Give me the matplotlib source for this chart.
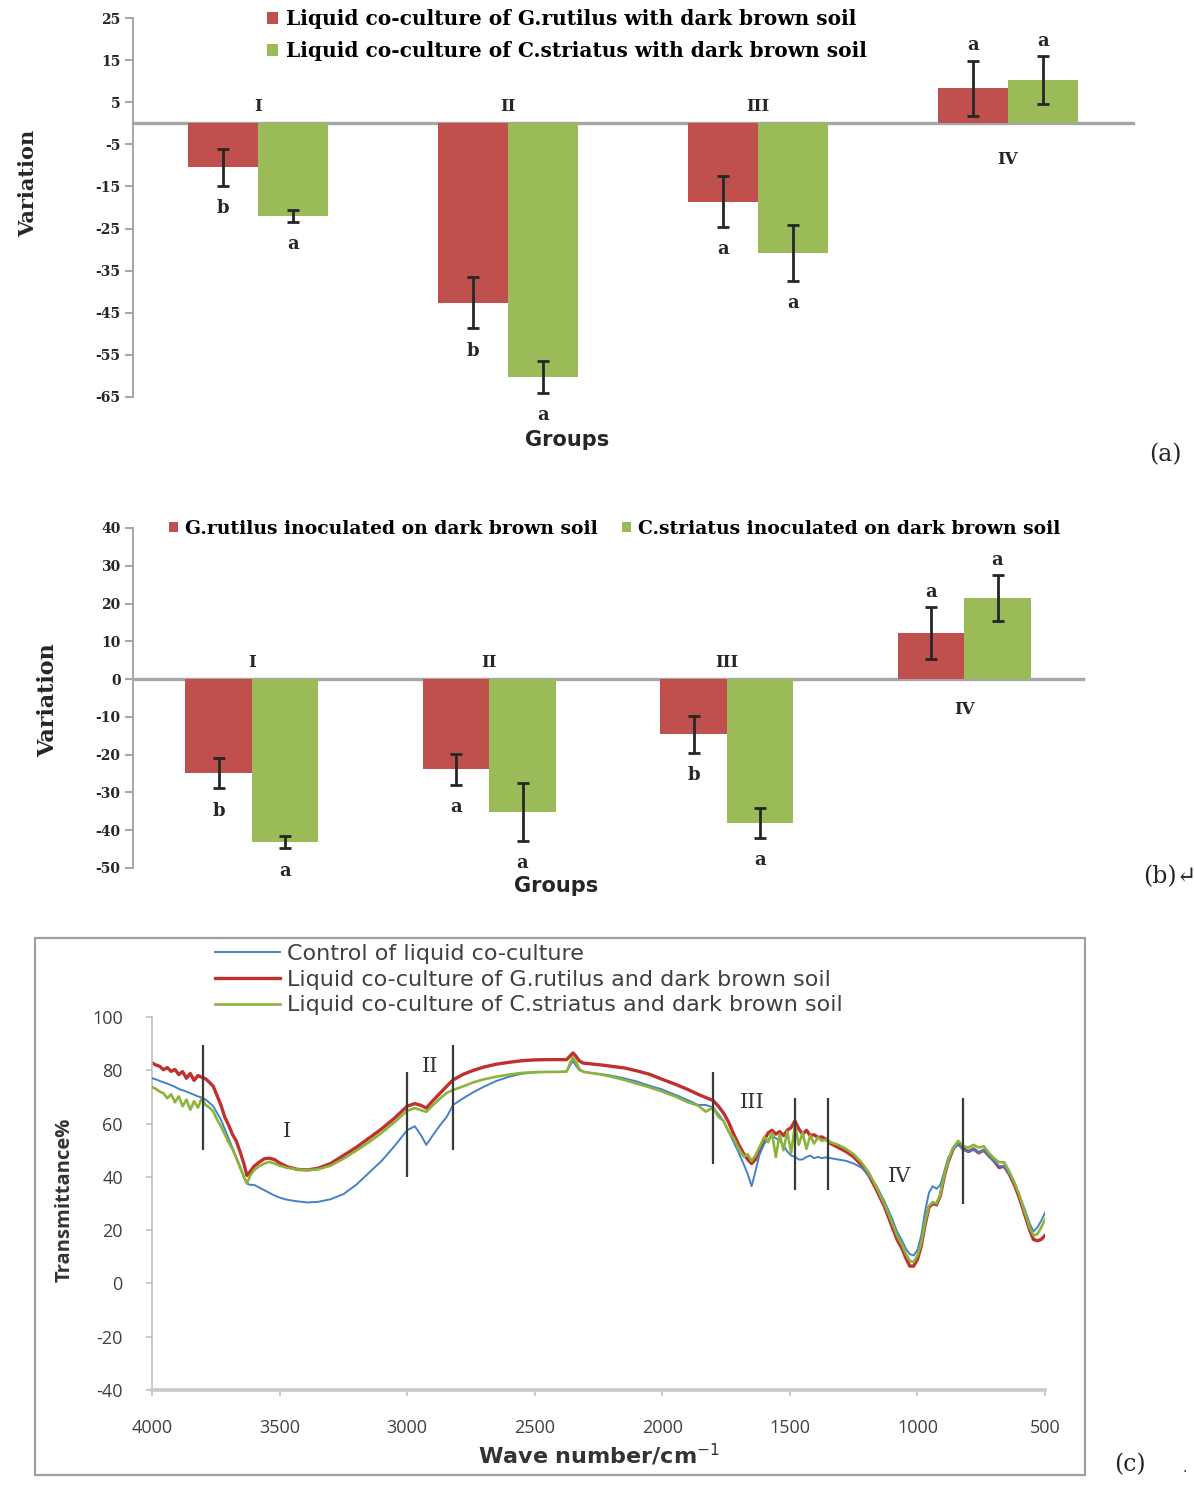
import matplotlib
matplotlib.use("Agg")
import matplotlib.pyplot as plt
from matplotlib.patches import Rectangle
import numpy as np

plt.rcParams["axes.unicode_minus"] = False

W, H, DPI = 1194, 1487, 100

groups = ["I", "II", "III", "IV"]

# (a) liquid co-culture with dark brown soil
a_grutilus = [-10.5, -42.6, -18.6, 8.3]
a_grutilus_err = [4.3, 6.1, 6.0, 6.6]
a_grutilus_sig = ["b", "b", "a", "a"]
a_cstriatus = [-22.0, -60.3, -30.8, 10.2]
a_cstriatus_err = [1.4, 3.8, 6.7, 5.7]
a_cstriatus_sig = ["a", "a", "a", "a"]
a_labels = ["Liquid co-culture of G.rutilus with dark brown soil",
            "Liquid co-culture of C.striatus with dark brown soil"]

# (b) strains inoculated on dark brown soil
b_grutilus = [-24.9, -23.8, -14.6, 12.2]
b_grutilus_err = [4.0, 4.1, 4.9, 6.9]
b_grutilus_sig = ["b", "a", "b", "a"]
b_cstriatus = [-43.1, -35.2, -38.1, 21.4]
b_cstriatus_err = [1.7, 7.6, 4.0, 6.1]
b_cstriatus_sig = ["a", "a", "a", "a"]
b_labels = ["G.rutilus inoculated on dark brown soil",
            "C.striatus inoculated on dark brown soil"]

# (c) FTIR spectra
wavenumber = [
    4000, 3985, 3970, 3955, 3940, 3925, 3910, 3895, 3880, 3865,
    3850, 3835, 3820, 3805, 3790, 3775, 3760, 3745, 3730, 3715,
    3700, 3685, 3670, 3655, 3640, 3628, 3615, 3600,
    3580, 3560, 3540, 3520, 3500, 3470, 3430, 3390, 3350, 3300,
    3250, 3200, 3150, 3100, 3050, 3000, 2970, 2945, 2925, 2900,
    2870, 2845, 2820,
    2780, 2740, 2700, 2650, 2600, 2550, 2500, 2450, 2400, 2375,
    2360, 2350, 2340, 2325, 2310, 2280, 2240, 2200, 2150, 2100,
    2050, 2000, 1950, 1900, 1860,
    1830, 1800, 1780, 1760, 1740, 1720, 1700, 1680, 1665, 1650,
    1635, 1620, 1600, 1585, 1570, 1555, 1540, 1525, 1510, 1495,
    1480, 1465, 1450, 1435, 1420, 1405, 1390, 1375, 1360,
    1340, 1310, 1280, 1250, 1220, 1190, 1160, 1130, 1100, 1080,
    1060, 1045, 1030, 1015, 1000, 985, 970, 955, 940, 925,
    910, 895, 880, 860, 840, 820, 800, 780, 760, 740,
    720, 700, 680, 660, 640, 620, 600, 580, 560, 545,
    530, 515, 500]
control = [
    77.0, 76.6, 76.0, 75.5, 75.0, 74.4, 73.8, 73.0, 72.5, 72.0,
    71.4, 70.8, 70.2, 69.8, 69.0, 67.8, 66.5, 64.0, 61.5, 58.0,
    54.5, 51.0, 47.5, 44.0, 40.0, 37.5, 37.0, 37.0,
    36.0, 35.0, 34.0, 33.0, 32.2, 31.4, 30.8, 30.4, 30.6, 31.6,
    33.5, 37.0, 41.5, 46.0, 51.5, 57.5, 59.0, 55.5, 52.0, 55.5,
    59.5, 62.5, 67.0,
    69.5, 71.8, 73.8, 76.0, 77.6, 78.7, 79.2, 79.4, 79.4, 79.6,
    82.0, 83.5, 82.0, 80.0, 79.6, 79.0, 78.6, 78.0, 77.0, 75.8,
    74.2, 72.8, 70.8, 68.8, 67.0,
    67.0, 66.0, 63.5, 61.0, 57.0, 53.0, 49.0, 44.5, 41.0, 36.5,
    42.0, 48.0, 52.5, 54.0, 55.5, 54.5, 53.5, 52.0, 49.5, 48.0,
    47.5, 46.5, 46.5, 47.5, 48.0, 47.0, 47.5, 47.0, 47.3,
    47.0, 46.5, 46.0, 45.0, 43.5, 40.5, 36.5, 31.0, 24.5, 19.5,
    16.0, 13.0, 11.0, 10.5, 12.5, 18.0, 27.0, 34.0, 36.5, 35.5,
    37.0, 42.0, 47.0, 50.5, 52.0, 50.0, 49.5, 50.5, 49.0, 50.0,
    47.5, 46.0, 44.0, 44.0, 41.0, 37.5, 33.0, 28.0, 22.5, 19.5,
    21.0, 23.5, 26.5]
grutilus_soil = [
    82.8, 82.0, 81.5, 80.2, 81.0, 79.6, 80.3, 78.4, 79.5, 77.0,
    78.8, 76.2, 78.0, 77.4, 76.8, 75.5, 74.0, 70.5, 67.0, 62.5,
    59.5, 56.0, 53.5, 49.5, 45.0, 40.5, 42.0, 44.0,
    45.5, 46.8, 47.0, 46.5, 45.2, 43.8, 42.8, 42.6, 43.2, 45.0,
    48.0, 51.0, 54.5, 58.0, 62.0, 66.5, 67.5, 66.8, 65.8, 68.5,
    71.5, 74.0, 76.4,
    78.5, 80.0, 81.2, 82.3, 83.0, 83.6, 83.9, 84.0, 84.0, 84.0,
    85.5, 86.5, 85.5, 83.5, 82.7, 82.4, 82.0, 81.5, 80.9, 79.8,
    78.5, 76.6, 74.8, 72.8, 71.0,
    69.8, 68.6, 66.5, 64.0, 60.5, 56.0, 52.0, 48.5, 46.5, 45.0,
    46.5, 50.0, 54.0, 56.5, 57.5, 56.0, 57.0, 55.5, 57.5, 58.5,
    61.0, 58.0, 56.0, 57.5, 55.5, 55.8, 54.8, 55.0, 54.2,
    52.5, 51.0, 49.5, 47.5, 44.5, 40.5, 35.0, 29.0, 21.5, 16.5,
    13.0, 9.5, 6.5, 6.5, 9.0, 14.0, 22.0, 28.5, 30.0, 29.5,
    33.0, 40.0, 45.5, 50.5, 53.0, 50.5, 49.5, 50.5, 49.0, 50.0,
    48.0, 46.0, 43.5, 44.0, 41.0, 37.0, 32.0, 26.0, 20.0, 16.5,
    16.0, 16.5, 18.0]
cstriatus_soil = [
    73.8, 73.0, 72.0, 71.4, 69.5, 71.0, 68.0, 70.2, 66.5, 69.0,
    65.2, 68.4, 66.0, 69.5, 67.0, 66.0, 64.5, 61.5, 59.0, 56.0,
    53.0, 50.5, 47.0, 43.5, 40.0, 37.5, 40.5, 42.5,
    44.0, 45.0, 45.6, 45.0, 44.2, 43.4, 42.8, 42.5, 42.8, 44.2,
    46.8, 49.8, 53.0, 56.5, 60.5, 64.8, 65.8, 65.0, 64.4, 66.8,
    69.5, 71.5, 72.6,
    74.0, 75.5, 76.6, 77.6, 78.4, 79.0, 79.3, 79.4, 79.4, 79.5,
    83.0, 85.0, 83.5, 80.5, 79.4, 79.0, 78.4, 77.6, 76.4, 75.0,
    73.6, 72.0, 70.2, 68.0, 66.8,
    64.5, 66.0, 62.5, 61.0, 57.0, 54.5, 50.5, 47.5, 48.5, 46.0,
    48.0, 51.0, 55.0, 53.0, 56.5, 47.5, 56.0, 50.0, 57.0, 49.0,
    59.5, 52.0, 56.5, 50.5, 55.5, 52.5, 54.8, 53.5, 54.0,
    53.0, 52.0, 50.5, 48.5, 45.5, 41.5, 36.0, 30.0, 23.0, 18.0,
    14.5, 11.0, 8.5, 8.0, 10.5, 15.0, 23.0, 29.0, 30.5, 30.0,
    33.5, 40.5, 46.0, 51.0, 53.5, 51.5, 51.0, 52.0, 51.0, 51.5,
    49.0, 47.0, 45.5, 45.5, 42.0, 38.0, 33.0, 27.0, 21.0, 18.0,
    18.5, 21.0, 24.0]
spectra_labels = ["Control of liquid co-culture",
                  "Liquid co-culture of G.rutilus and dark brown soil",
                  "Liquid co-culture of C.striatus and dark brown soil"]

# band boundaries drawn on the spectra
band_wn = [3800, 3000, 2820, 1800, 1480, 1350, 820]
band_lo = [50, 40, 50, 45, 35, 35, 30]
band_hi = [89.5, 79.5, 89.5, 79.5, 69.5, 69.5, 69.5]
band_names = ["I", "II", "III", "IV"]
band_name_wn = [3471, 2911, 1649, 1069]
band_name_t = [57, 81.5, 68, 40]

RED = "#c0504d"
GREEN = "#9bbb59"
AXGRAY = "#a6a6a6"
INK = "#262626"
SERIF = "DejaVu Serif"
SANS = "DejaVu Sans"

fig = plt.figure(figsize=(W / DPI, H / DPI), dpi=DPI)


def fx(x):
    return x / W


def fy(y):
    return 1 - y / H


def axes_px(left, top, right, bottom):
    return fig.add_axes([fx(left), fy(bottom), (right - left) / W, (bottom - top) / H])


def bar_panel(ax, rv, re, rs, gv, ge, gs, ylim, yticks, above_pt, below_pt, ticksize):
    x = np.arange(len(groups))
    w = 0.28
    bars_r = ax.bar(x - w / 2, rv, w, color=RED, zorder=2)
    bars_g = ax.bar(x + w / 2, gv, w, color=GREEN, zorder=2)
    for xs, vals, errs in ((x - w / 2, rv, re), (x + w / 2, gv, ge)):
        ax.errorbar(xs, vals, yerr=errs, fmt="none", ecolor=INK, elinewidth=2.0,
                    capsize=4, capthick=2.0, zorder=3)
    for xs, vals, errs, sig in ((x - w / 2, rv, re, rs), (x + w / 2, gv, ge, gs)):
        for xi, v, e, s in zip(xs, vals, errs, sig):
            if v < 0:
                y, off = v - e, -16
            else:
                y, off = v + e, 11
            ax.annotate(s, (xi, y), xytext=(0, off), textcoords="offset points",
                        ha="center", va="center", fontsize=13, fontweight="bold",
                        family=SERIF, color=INK)
    for xi, g, r, gr in zip(x, groups, rv, gv):
        off = above_pt if min(r, gr) < 0 else -below_pt
        ax.annotate(g, (xi, 0), xytext=(0, off), textcoords="offset points",
                    ha="center", va="center", fontsize=12, fontweight="bold",
                    family=SERIF, color=INK)
    ax.set_xlim(-0.5, len(groups) - 0.5)
    ax.set_ylim(*ylim)
    ax.set_yticks(yticks)
    ax.set_xticks([])
    ax.spines["top"].set_visible(False)
    ax.spines["right"].set_visible(False)
    ax.spines["bottom"].set_position(("data", 0))
    ax.spines["bottom"].set_color(AXGRAY)
    ax.spines["bottom"].set_linewidth(2.4)
    ax.spines["bottom"].set_zorder(1)
    ax.spines["left"].set_color(AXGRAY)
    ax.spines["left"].set_linewidth(1.4)
    ax.tick_params(axis="y", direction="out", length=6, width=1.4, color=AXGRAY,
                   labelsize=ticksize, labelcolor=INK, pad=3)
    for t in ax.get_yticklabels():
        t.set_fontweight("bold")
        t.set_family(SERIF)
    ax.patch.set_alpha(0)
    return bars_r, bars_g


# ---------- (a) ----------
ax1 = axes_px(133, 18, 1133, 397)
br, bg = bar_panel(ax1, a_grutilus, a_grutilus_err, a_grutilus_sig,
                   a_cstriatus, a_cstriatus_err, a_cstriatus_sig,
                   (-65, 25), np.arange(-65, 26, 10), 12, 26, 10)
fig.legend([br, bg], a_labels, loc="upper left",
           bbox_to_anchor=(fx(253), fy(-5)), frameon=False,
           prop={"family": SERIF, "weight": "bold", "size": 14.5},
           handlelength=0.55, handleheight=0.55, handletextpad=0.4,
           labelspacing=0.6, borderpad=0.2)
fig.text(fx(28), fy(183), "Variation", rotation=90, ha="center", va="center",
         fontsize=15, fontweight="bold", family=SERIF, color=INK)
fig.text(fx(567), fy(440), "Groups", ha="center", va="center",
         fontsize=15, fontweight="bold", family=SANS, color=INK)
fig.text(fx(1165), fy(455), "(a)", ha="center", va="center",
         fontsize=17, family=SERIF, color=INK)

# ---------- (b) ----------
ax2 = axes_px(133, 528, 1083, 868)
br, bg = bar_panel(ax2, b_grutilus, b_grutilus_err, b_grutilus_sig,
                   b_cstriatus, b_cstriatus_err, b_cstriatus_sig,
                   (-50, 40), np.arange(-50, 41, 10), 12, 22, 10)
fig.legend([br, bg], b_labels, loc="upper left", ncol=2,
           bbox_to_anchor=(fx(156), fy(507)), frameon=False,
           prop={"family": SERIF, "weight": "bold", "size": 13.5},
           handlelength=0.45, handleheight=0.45, handletextpad=0.4,
           columnspacing=1.3, borderpad=0.2)
fig.text(fx(48), fy(700), "Variation", rotation=90, ha="center", va="center",
         fontsize=16, fontweight="bold", family=SERIF, color=INK)
fig.text(fx(556), fy(886), "Groups", ha="center", va="center",
         fontsize=15, fontweight="bold", family=SANS, color=INK)
fig.text(fx(1170), fy(877), "(b)\u21b5", ha="center", va="center",
         fontsize=17, family=[SERIF, SANS], color=INK)

# ---------- (c) ----------
fig.add_artist(Rectangle((fx(35), fy(1475)), 1050 / W, 537 / H,
                         transform=fig.transFigure, fill=False,
                         edgecolor="#a0a0a0", linewidth=1.6))
ax3 = axes_px(152, 1017, 1045, 1390)
l_red, = ax3.plot(wavenumber, grutilus_soil, color="#c0302f", lw=2.4, zorder=2)
l_blue, = ax3.plot(wavenumber, control, color="#4382c8", lw=1.4, zorder=3)
l_green, = ax3.plot(wavenumber, cstriatus_soil, color="#8cb43c", lw=1.9, zorder=4)
ax3.vlines(band_wn, band_lo, band_hi, color="#3a3a3a", lw=1.6, zorder=5)
for name, xw, yt in zip(band_names, band_name_wn, band_name_t):
    ax3.text(xw, yt, name, ha="center", va="center", fontsize=15,
             family=SERIF, color="#333333")
ax3.set_xlim(4000, 500)
ax3.set_ylim(-40, 100)
ax3.set_xticks(np.arange(4000, 499, -500))
ax3.set_yticks(np.arange(-40, 101, 20))
ax3.spines["top"].set_visible(False)
ax3.spines["right"].set_visible(False)
ax3.spines["left"].set_color("#c0c0c0")
ax3.spines["left"].set_linewidth(1.2)
ax3.spines["bottom"].set_color("#c8c8c8")
ax3.spines["bottom"].set_linewidth(2.6)
ax3.tick_params(axis="both", direction="out", length=4, width=1.2, color="#c0c0c0",
                labelsize=13, labelcolor="#404040")
ax3.tick_params(axis="y", pad=17)
ax3.tick_params(axis="x", pad=17)
for t in ax3.get_xticklabels() + ax3.get_yticklabels():
    t.set_family("Open Sans")
ax3.legend([l_blue, l_red, l_green], spectra_labels, loc="upper left",
           bbox_to_anchor=(fx(213), fy(942)), bbox_transform=fig.transFigure,
           frameon=False, prop={"family": SANS, "size": 16},
           labelcolor="#404040", handlelength=2.9, handletextpad=0.35,
           labelspacing=0.25, borderpad=0.1, borderaxespad=0)
ax3.set_xlabel("Wave number/cm$^{-1}$", fontsize=16, fontweight="bold",
               family=SANS, color="#333333", labelpad=3)
fig.text(fx(65), fy(1200), "Transmittance%", rotation=90, ha="center", va="center",
         fontsize=14.5, fontweight="bold", family="Open Sans", color="#333333")
fig.text(fx(1130), fy(1465), "(c)", ha="center", va="center",
         fontsize=17, family=SERIF, color=INK)
fig.text(fx(1185), fy(1468), ".", ha="center", va="center",
         fontsize=10, family=SERIF, color=INK)

fig.savefig("out.png", dpi=DPI)
